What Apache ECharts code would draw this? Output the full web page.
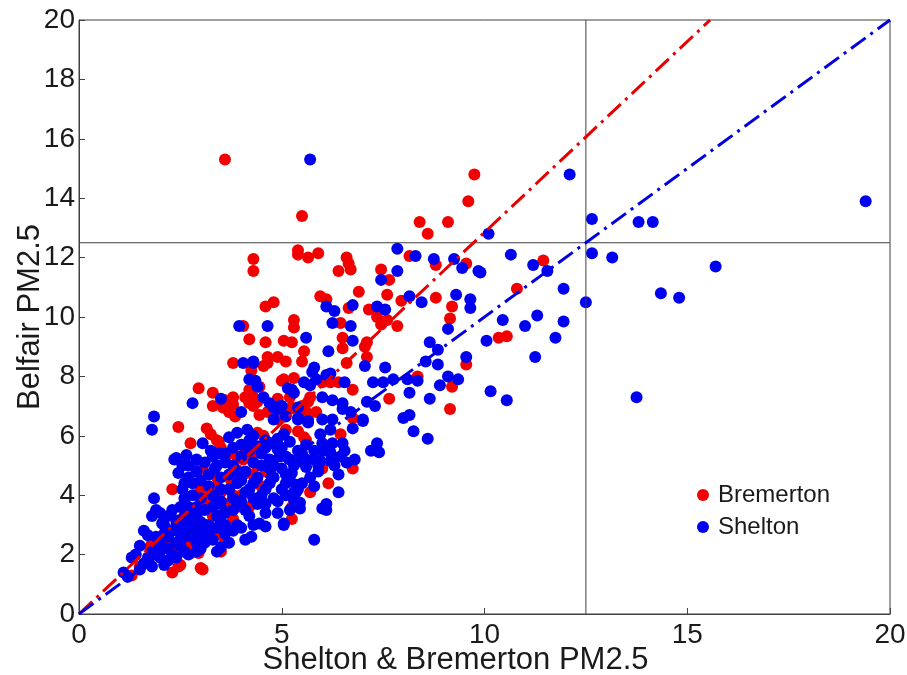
<!DOCTYPE html>
<html>
<head>
<meta charset="utf-8">
<script src="https://cdn.jsdelivr.net/npm/echarts@6/dist/echarts.min.js"></script>
<style>
  html, body { margin: 0; padding: 0; background: #fff; }
  #chart { width: 907px; height: 675px; }
</style>
</head>
<body>
<div id="chart"></div>
<script>
// Daily PM2.5 pairs: [Shelton or Bremerton value, Belfair value]
const bremerton = [
  [3.6,15.3],[5.5,13.4],[9.75,14.8],[9.6,13.9],[8.4,13.2],[8.6,12.8],[9.1,13.2],
  [5.4,12.25],[5.4,12.1],[5.65,12.0],[5.9,12.15],[4.3,11.95],[4.3,11.55],[6.6,12.0],[6.65,11.8],
  [6.7,11.6],[6.4,11.55],[8.15,12.05],[8.8,11.75],[9.55,11.8],[7.45,11.6],[7.65,11.25],[11.45,11.9],
  [6.9,10.85],[7.6,10.75],[7.95,10.55],[8.8,10.65],[9.2,10.35],[10.8,10.95],
  [5.95,10.7],[6.1,10.6],[4.6,10.35],[4.8,10.5],[6.65,10.3],[7.15,10.25],[7.35,10.0],[7.45,9.75],
  [7.6,9.9],[7.85,9.7],[5.3,9.9],[5.3,9.65],[6.45,9.8],[9.15,9.95],[4.05,9.7],
  [4.2,9.25],[4.6,9.15],[5.05,9.2],[5.25,9.15],[6.5,9.3],[7.1,9.15],[7.05,9.0],[10.35,9.3],[10.55,9.35],
  [5.55,8.85],[6.5,8.95],[7.1,8.65],[4.65,8.65],[4.9,8.65],[5.1,8.5],[5.5,8.5],[9.55,8.4],[4.55,8.35],
  [6.6,8.45],[3.8,8.45],[4.65,8.45],[4.25,8.2],
  [8.35,8.0],[9.2,7.65],[7.65,7.25],[9.15,6.9],[6.75,7.55],[6.4,7.8],
  [2.95,7.6],[3.3,7.45],[3.6,7.2],[3.8,7.05],[3.3,7.0],[3.55,6.95],[3.75,7.1],[3.8,7.3],[4.1,7.3],
  [4.2,7.1],[4.3,7.3],[4.45,7.65],[5.05,7.9],[5.3,7.95],[5.7,7.3],[4.9,7.25],[5.6,6.8],[5.85,6.8],
  [3.7,6.8],[4.45,6.7],[3.85,6.65],[4.3,7.0],[5.0,7.85],[5.2,7.3],
  [5.2,6.9],[5.45,6.8],[5.65,6.55],[4.9,6.55],[5.1,6.2],[5.25,6.95],[5.5,7.0],[6.75,6.6],[5.4,6.15],
  [5.6,5.85],[6.45,6.05],[4.2,7.55],[4.4,7.15],[4.65,6.8],[4.4,6.1],[4.55,6.0],[5.55,5.95],
  [6.0,7.8],[6.2,7.8],[5.65,7.15],
  [2.45,6.3],[3.15,6.25],[3.25,6.05],[3.45,5.8],[3.4,5.85],[2.75,5.75],[3.5,5.6],[3.65,5.35],
  [4.1,5.55],[4.3,5.35],[3.9,5.3],[4.05,5.2],[2.9,4.85],[3.05,4.9],[6.75,4.9],[6.0,4.9],[6.15,4.4],
  [5.7,4.1],[5.25,3.6],[5.25,3.2],[3.9,4.85],[4.15,4.75],[3.4,4.6],
  [3.75,4.5],[3.9,4.6],[2.3,4.2],[2.95,4.05],[3.1,3.9],[3.05,3.75],[3.0,4.2],[3.15,3.6],
  [2.5,3.15],[2.6,3.1],[2.45,3.15],[2.85,3.05],[2.8,3.2],
  [1.8,2.4],[1.75,2.25],[3.05,1.5],[2.3,1.4],[2.5,1.65],[2.75,2.05],[2.95,2.05],[3.5,2.1],[3.6,2.5],
  [3.0,1.55],[2.45,1.6],
  [3.3,3.3],[3.6,3.7],[4.0,4.0],[4.5,4.3],[3.2,2.8],[2.7,2.7],[4.2,3.6],[3.8,3.2],[4.6,4.8],[3.4,4.3],
  [2.9,3.5],[3.2,3.9],[3.5,4.1],[2.6,3.7],[3.8,4.0],[4.3,4.7],[3.4,2.7],[2.7,2.3],[2.2,2.5],[2.0,2.1],
  [1.5,1.6],[1.3,1.3],[3.9,3.6],[4.4,5.0],[2.4,2.2]
];

const shelton = [
  [5.7,15.3],[12.1,14.8],[19.4,13.9],[12.65,13.3],[13.8,13.2],[14.15,13.2],[10.1,12.8],
  [10.65,12.1],[11.2,11.75],[11.55,11.55],[9.9,11.5],[12.65,12.15],[13.15,12.0],[15.7,11.7],
  [11.95,10.95],[12.5,10.5],[14.35,10.8],[14.8,10.65],[10.45,9.9],[11.0,9.7],[11.3,10.05],
  [11.95,9.85],[10.05,9.2],[11.75,9.3],[11.25,8.65],[10.15,7.5],[10.55,7.2],[13.75,7.3],
  [7.85,12.3],[8.3,12.05],[8.75,11.95],[9.25,11.95],[9.45,11.65],[9.85,11.55],[7.85,11.55],[7.45,11.25],
  [8.15,10.7],[8.45,10.5],[9.3,10.75],[9.65,10.6],[9.65,10.3],[6.1,10.35],[6.3,10.2],[6.75,10.4],
  [7.35,10.35],[7.55,10.25],[4.65,9.7],[6.25,9.8],[6.7,9.7],[9.1,9.6],[3.95,9.7],
  [5.6,9.3],[6.75,9.2],[8.65,9.15],[8.85,8.9],[6.15,8.85],[9.55,8.65],[8.55,8.5],[8.85,8.4],
  [4.3,8.5],[5.8,8.3],[6.1,8.05],[7.05,8.35],[7.55,8.3],[4.05,8.45],[4.3,8.45],[5.75,8.15],[6.2,8.1],
  [7.25,7.8],[7.5,7.8],[7.75,7.9],[8.1,7.9],[8.35,7.85],[8.15,7.45],[8.65,7.25],[9.1,8.0],[9.35,7.9],
  [8.9,7.7],[6.55,7.8],
  [7.1,7.15],[7.3,7.0],[8.0,6.6],[8.15,6.7],[8.25,6.15],[8.6,5.9],[7.0,6.55],[6.75,6.25],[7.35,5.75],
  [7.2,5.5],[7.4,5.45],[6.2,6.2],[6.25,5.75],[6.1,5.5],[6.5,5.75],[6.55,5.5],[6.45,5.3],[6.4,4.1],
  [5.8,4.3],[6.1,3.7],[6.1,3.5],[5.45,3.55],[5.05,3.0],[5.8,2.5],
  [7.0,6.5],[5.95,6.05],[6.0,5.75],[6.2,5.45],[6.0,5.5],[6.0,6.55],[6.25,6.55],[6.5,6.9],[6.7,6.8],
  [5.65,6.5],[5.4,6.6],[5.05,6.05],[4.95,5.3],[5.2,5.2],[5.45,5.15],[5.6,4.95],[5.95,5.15],[6.2,5.15],
  [5.2,4.5],[5.35,4.35],[5.3,4.1],[5.3,3.85],
  [2.8,7.1],[3.5,7.25],[4.55,7.3],[4.35,7.85],[5.25,7.55],[5.15,7.6],[5.55,7.8],[5.7,7.7],[4.95,7.0],
  [5.4,6.95],[4.0,6.8],[1.85,6.65],[1.8,6.2],
  [4.2,7.9],[4.4,7.65],[4.7,7.1],[4.9,6.9],[5.1,6.65],[5.3,7.45],[5.85,7.9],[6.0,7.3],[6.25,7.2],
  [6.5,7.1],[4.8,6.95],[5.0,7.0],[5.4,6.55],[5.65,6.45],[4.8,6.55],
  [2.4,5.25],[2.55,5.0],[2.45,4.75],[2.65,5.35],[3.05,5.75],[3.25,5.5],[3.45,5.4],[3.7,5.95],[3.9,6.1],
  [4.15,6.2],[4.2,5.85],[3.35,4.9],[3.6,5.1],[3.8,5.0],[2.8,4.4],[1.85,3.9],[1.9,3.5],[1.8,3.3],
  [2.55,4.2],[2.6,3.9],[2.3,3.5],[2.4,3.15],[1.7,2.65],[1.4,2.0],[1.1,1.4],[2.05,3.05],[1.8,1.6],
  [2.1,1.65],[1.3,1.9],[1.2,1.25],
  [4.4,5.65],[4.6,5.85],[4.75,5.75],[4.9,5.55],[5.1,5.3],[2.35,5.2],[4.1,2.5],[4.25,2.6],[3.5,2.25],
  [4.45,3.05],[4.6,2.95],[5.05,3.05],[5.35,4.1],[5.45,3.75],[6.0,3.55],[5.1,4.4],[5.25,4.75],
  [2.6,2.6],[2.8,2.9],[3.0,2.7],[3.2,3.0],[3.4,3.3],[3.1,3.5],[2.9,3.3],[3.6,3.0],[3.8,3.5],[3.5,3.8],
  [3.3,4.0],[3.7,4.2],[4.0,3.8],[4.2,4.2],[4.4,4.6],[4.1,4.8],[3.9,4.4],[4.6,4.2],[4.8,4.6],[4.5,5.0],
  [4.7,5.2],[4.3,5.1],[5.0,4.9],[5.0,4.2],[4.8,3.9],[4.4,3.7],[4.2,3.3],[3.9,3.0],[3.6,2.7],[3.3,2.5],
  [2.9,2.4],[2.5,2.3],[2.2,2.2],[2.0,2.5],[2.3,2.8],[2.1,3.0],[2.6,3.3],[2.7,3.6],[3.0,3.9],[3.2,4.3],
  [3.5,4.6],[3.0,4.5],[2.8,4.0],[4.0,5.3],[3.8,5.6],[4.5,5.4],[4.9,5.9],[4.3,6.0],[5.5,5.4],[5.6,5.7],
  [5.8,5.2],[5.7,4.6],[5.5,4.4],[5.9,4.8],[6.4,4.7],[6.8,5.2],[4.9,3.4],[4.6,3.4],[5.2,3.5],[4.0,2.9],
  [3.7,2.4],[3.4,2.1],[3.0,2.2],[2.7,2.0],[2.4,1.9],[2.2,1.8],[1.9,2.0],[1.6,1.7],[2.0,2.3],
  [2.2,2.6],[2.4,2.4],[2.6,2.9],[2.8,2.6],[3.0,3.1],[3.2,2.7],[3.4,2.9],[3.1,2.4],[2.9,2.1],[2.6,2.1],
  [2.3,2.0],[2.0,1.9],[1.8,2.1],[1.7,1.9],[1.5,1.5],[1.9,2.6],[2.1,2.7],[2.4,3.0],[2.2,3.3],[2.5,3.6],
  [2.9,3.6],[3.3,3.6],[3.6,3.4],[3.9,3.7],[4.1,3.5],[4.3,3.9],[4.5,4.0],[4.7,4.4],[4.3,4.4],[4.0,4.5],
  [3.7,4.7],[3.5,4.2],[3.2,4.7],[3.4,5.0],[3.1,5.1],[2.9,4.8],[2.7,4.6],[2.6,4.4],[4.8,5.0],[5.1,4.7],
  [5.3,5.0],[5.4,5.5],[5.2,5.8],[5.0,5.6],[4.6,5.6],[4.2,5.5],[4.0,5.7],[3.6,5.4],[3.3,5.3],[2.9,5.2],
  [2.7,5.0],[5.6,5.2],[5.8,5.5],[5.9,5.0],[6.3,5.0],[6.6,5.1],[3.8,3.9],[4.1,4.1],[3.4,3.7],[2.8,3.4],
  [3.0,3.0],[3.8,2.8],[4.3,3.0],[4.6,3.7],[4.9,3.8],[5.1,4.0],[5.4,4.2],[4.7,4.9],[3.9,4.8],[2.5,2.7],
  [1.5,2.3],[1.6,2.8],[2.0,3.4],[3.5,3.1],[2.7,3.1]
];

// Regression slopes through the origin
const bremertonSlope = 1.285;
const sheltonSlope = 1.0;

// PM2.5 standard marked on both axes
const standardLevel = 12.5;

const axisMax = 20;
const xTickStep = 5;
const yTickStep = 2;

const fitLine = (slope) => {
  const xEnd = Math.min(axisMax, axisMax / slope);
  return [[0, 0], [xEnd, xEnd * slope]];
};

const font = "'Liberation Sans', Arial, sans-serif";
const ink = '#1a1a1a';
const frame = '#404040';

const axisCommon = {
  min: 0,
  max: axisMax,
  axisLine: { show: true, lineStyle: { color: frame, width: 1 } },
  axisTick: { show: true, inside: true, length: 6, lineStyle: { color: frame } },
  splitLine: { show: false },
  axisLabel: { color: ink, fontFamily: font, fontSize: 28 },
  nameLocation: 'middle',
  nameMoveOverlap: false,
  nameTextStyle: { color: ink, fontFamily: font, fontSize: 31 }
};

const chart = echarts.init(document.getElementById('chart'));
chart.setOption({
  animation: false,
  backgroundColor: '#ffffff',
  grid: {
    left: 79, right: 17, top: 20, bottom: 61,
    outerBoundsMode: 'none',
    containLabel: false,
    show: true, borderColor: frame, borderWidth: 1, backgroundColor: 'transparent'
  },
  legend: {
    data: ['Bremerton', 'Shelton'],
    orient: 'vertical',
    left: 692,
    top: 478,
    itemWidth: 12,
    itemHeight: 12,
    itemGap: 8,
    icon: 'circle',
    textStyle: { color: ink, fontFamily: font, fontSize: 24, padding: [0, 0, 0, 4] }
  },
  xAxis: Object.assign({}, axisCommon, {
    type: 'value',
    interval: xTickStep,
    name: 'Shelton & Bremerton PM2.5',
    nameGap: 31,
    nameTextStyle: Object.assign({}, axisCommon.nameTextStyle, { padding: [0, 58, 0, 0] }),
    axisLabel: Object.assign({}, axisCommon.axisLabel, { margin: 7 })
  }),
  yAxis: Object.assign({}, axisCommon, {
    type: 'value',
    interval: yTickStep,
    name: 'Belfair PM2.5',
    nameGap: 33,
    axisLabel: Object.assign({}, axisCommon.axisLabel, { margin: 4 })
  }),
  series: [
    {
      name: 'Bremerton',
      type: 'scatter',
      data: bremerton,
      symbol: 'circle',
      symbolSize: 12,
      itemStyle: { color: '#f20000', opacity: 1 },
      z: 2
    },
    {
      name: 'Shelton',
      type: 'scatter',
      data: shelton,
      symbol: 'circle',
      symbolSize: 12,
      itemStyle: { color: '#0000f0', opacity: 1 },
      z: 3
    },
    {
      name: 'Standard x',
      type: 'line',
      data: [[standardLevel, 0], [standardLevel, axisMax]],
      symbol: 'none',
      lineStyle: { color: frame, width: 1 },
      silent: true,
      z: 4
    },
    {
      name: 'Standard y',
      type: 'line',
      data: [[0, standardLevel], [axisMax, standardLevel]],
      symbol: 'none',
      lineStyle: { color: frame, width: 1 },
      silent: true,
      z: 4
    },
    {
      name: 'Bremerton fit',
      type: 'line',
      data: fitLine(bremertonSlope),
      symbol: 'none',
      lineStyle: { color: '#e80000', width: 3, type: [18, 6, 3, 6] },
      silent: true,
      z: 5
    },
    {
      name: 'Shelton fit',
      type: 'line',
      data: fitLine(sheltonSlope),
      symbol: 'none',
      lineStyle: { color: '#0000e0', width: 3, type: [18, 6, 3, 6] },
      silent: true,
      z: 6
    }
  ]
});
</script>
</body>
</html>
